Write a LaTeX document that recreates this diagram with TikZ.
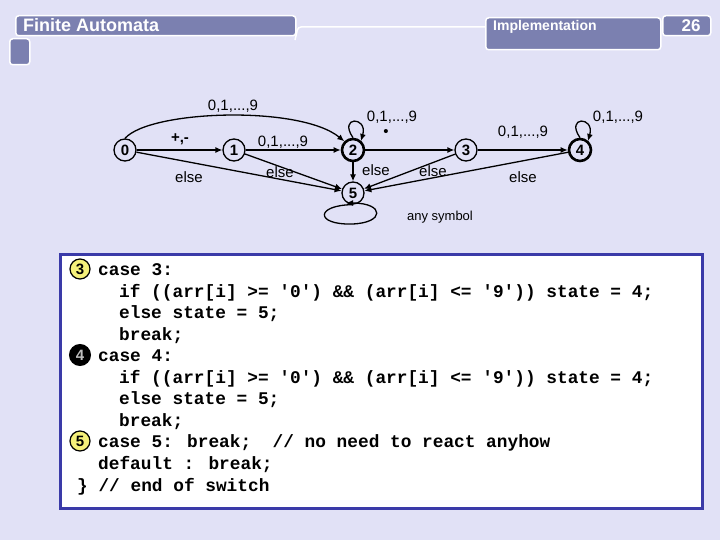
\documentclass[tikz,border=0pt]{standalone}
\usepackage{fontspec}
\setmainfont{Liberation Sans}
\newfontfamily\codefont{Liberation Mono}
\usetikzlibrary{arrows.meta}
\definecolor{bg}{HTML}{E1E1F6}
\definecolor{bar}{HTML}{7B80B0}
\definecolor{codeblue}{HTML}{3A3AA8}
\definecolor{yel}{HTML}{F5F07A}
\begin{document}
\begin{tikzpicture}[x=1pt,y=-1pt,
  st/.style={circle,draw,line width=1.3pt,minimum size=22pt,inner sep=0pt,font=\bfseries\fontsize{15}{15}\selectfont},
  acc/.style={st,line width=2.6pt},
  lab/.style={font=\fontsize{15}{15}\selectfont,inner sep=1pt},
  tr/.style={-{Latex[length=7pt,width=6pt]},line width=1.3pt},
  hdr/.style={fill=bar,draw=white,line width=1.5pt,rounded corners=3pt},
  cl/.style={anchor=base west,inner sep=0pt,font=\codefont\bfseries\fontsize{17.8}{17.8}\selectfont},
  mk/.style={circle,draw,line width=1.2pt,minimum size=20pt,inner sep=0pt,font=\bfseries\fontsize{15}{15}\selectfont}]
\fill[bg] (0,0) rectangle (720,540);
% header
\draw[white,line width=1.5pt,rounded corners=3pt] (295,40) -- (298,27) -- (485,27);
\node[hdr,minimum width=280pt,minimum height=20pt,anchor=north west] (hb) at (15,15) {};
\node[anchor=west,text=white,font=\bfseries\fontsize{18}{18}\selectfont,inner sep=0pt] (ht) at (23,25) {Finite Automata};
\node[hdr,minimum width=175pt,minimum height=32pt,anchor=north west] (ib) at (485,17) {};
\node[text=white,font=\bfseries\fontsize{14}{14}\selectfont,anchor=west,inner sep=0pt] (it) at (493,27) {Implementation};
\node[hdr,minimum width=48pt,minimum height=20pt,anchor=north west] (nb) at (662,15) {};
\node[text=white,font=\bfseries\fontsize{17}{17}\selectfont] (nt) at (691,26) {26};
\node[hdr,minimum width=20pt,minimum height=26pt,anchor=north west] (sq) at (9,38) {};
% automaton
\node[st] (s0) at (125,150) {0};
\node[st] (s1) at (234,150) {1};
\node[acc] (s2) at (353,150) {2};
\node[st] (s3) at (466,150) {3};
\node[acc] (s4) at (580,150) {4};
\node[st] (s5) at (353,193) {5};
\draw[tr] (s0) -- (s1);
\draw[tr] (s1) -- (s2);
\draw[tr] (s2) -- (s3);
\draw[tr] (s3) -- (s4);
\draw[tr] (s0.north) .. controls (150,110) and (300,105) .. (s2.north west);
\draw[tr] (s0) -- (s5);
\draw[tr] (s1) -- (s5);
\draw[tr] (s2) -- (s5);
\draw[tr] (s3) -- (s5);
\draw[tr] (s4) -- (s5);
\draw[tr] (s2.north) .. controls (338,116) and (368,116) .. (361,141);
\draw[tr] (s4.north) .. controls (565,116) and (595,116) .. (588,141);
\draw[tr] (s5.south) .. controls (315,205) and (315,225) .. (352,224) .. controls (385,223) and (385,203) .. (346,203);
\node[lab] (l1) at (233,106) {0,1,...,9};
\node[lab,font=\bfseries\fontsize{15}{15}\selectfont] (l2) at (180,139) {+,-};
\node[lab] (l3) at (189,177) {else};
\node[lab] (l4) at (283,142) {0,1,...,9};
\node[lab] (l5) at (392,117) {0,1,...,9};
\node[lab] (l6) at (386,133) {•};
\node[lab] (l7) at (280,172) {else};
\node[lab] (l8) at (376,170) {else};
\node[lab] (l9) at (433,171) {else};
\node[lab] (l10) at (523,132) {0,1,...,9};
\node[lab] (l11) at (618,117) {0,1,...,9};
\node[lab] (l12) at (523,177) {else};
\node[lab,font=\fontsize{13}{13}\selectfont] (l13) at (440,217) {any symbol};
% code box
\node[draw=codeblue,line width=3pt,fill=white,minimum width=642pt,minimum height=254pt,anchor=north west] (cb) at (59,253) {};
\node[cl] (c1) at (98,275) {case 3:};
\node[cl] (c2) at (119,297) {if ((arr[i] >= '0') \&\& (arr[i] <= '9')) state = 4;};
\node[cl] (c3) at (119,318) {else state = 5;};
\node[cl] (c4) at (119,340) {break;};
\node[cl] (c5) at (98,361) {case 4:};
\node[cl] (c6) at (119,383) {if ((arr[i] >= '0') \&\& (arr[i] <= '9')) state = 4;};
\node[cl] (c7) at (119,404) {else state = 5;};
\node[cl] (c8) at (119,426) {break;};
\node[cl] (c9) at (98,447) {case 5: break;\ \ // no need to react anyhow};
\node[cl] (c10) at (98,469) {default : break;};
\node[cl] (c11) at (77,491) {\} // end of switch};
\node[mk,fill=yel] (m3) at (80,269) {3};
\node[mk,fill=black,text=lightgray,line width=2pt] (m4) at (80,355) {4};
\node[mk,fill=yel] (m5) at (80,441) {5};
\end{tikzpicture}
\end{document}
